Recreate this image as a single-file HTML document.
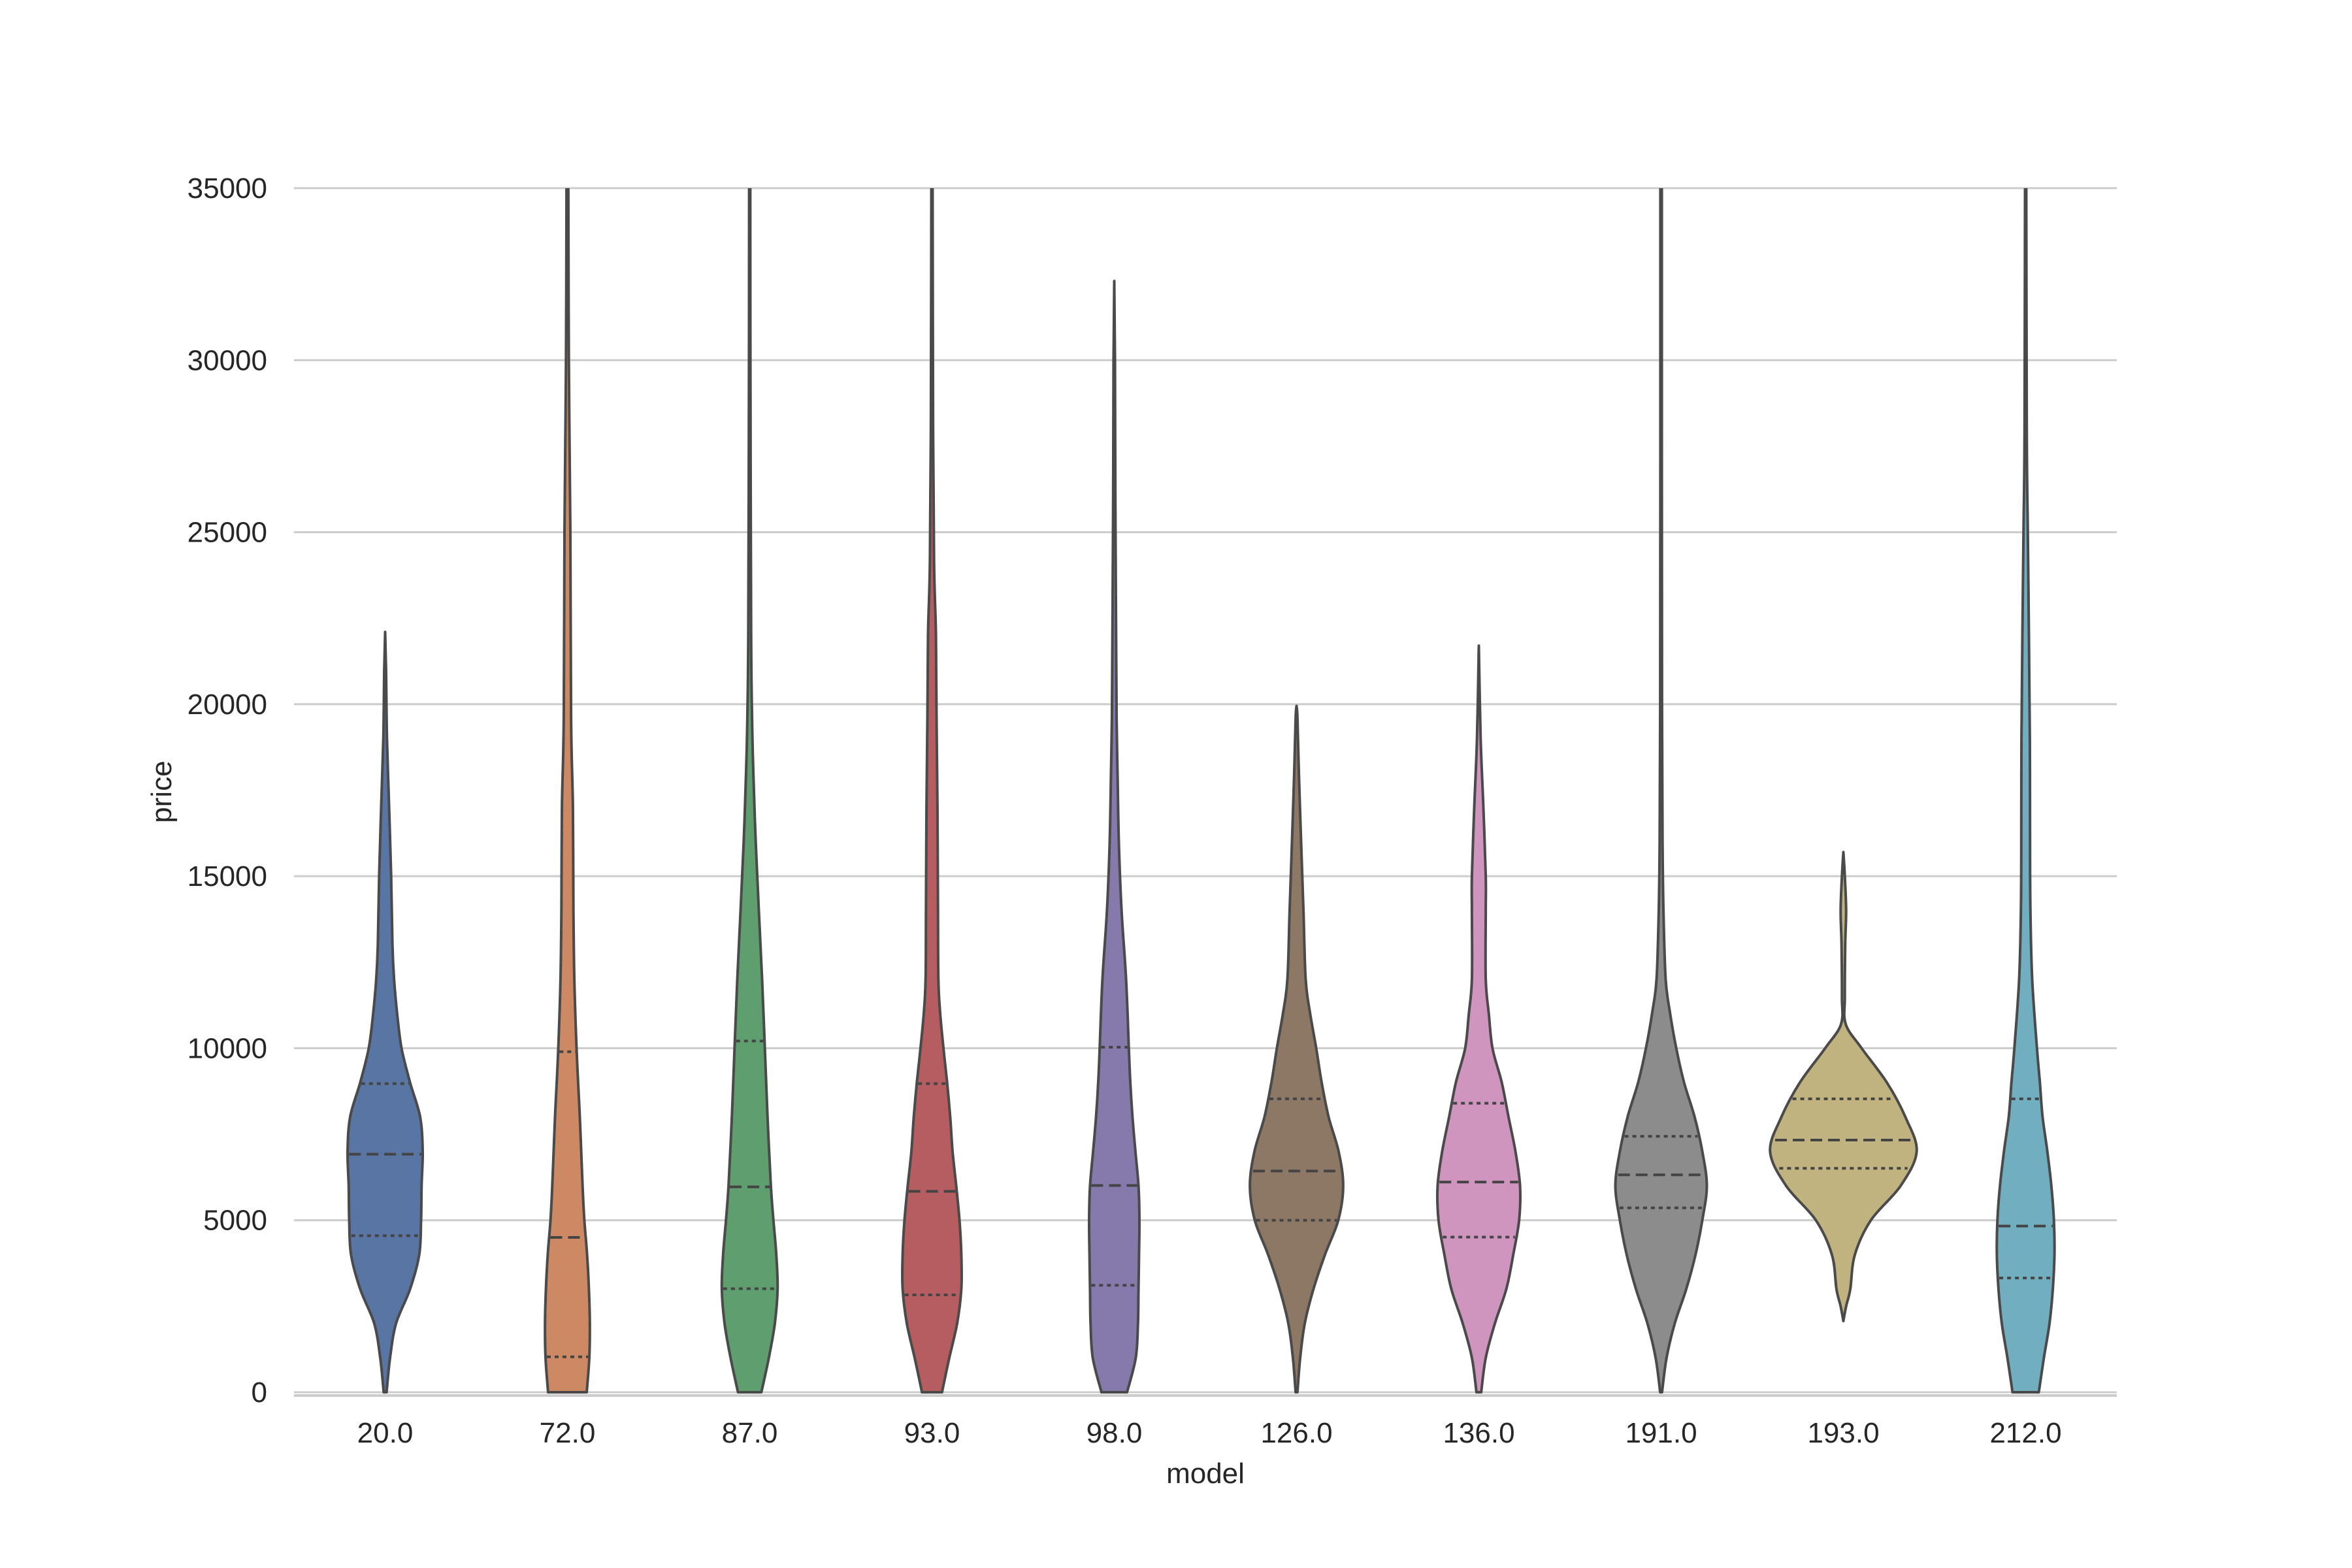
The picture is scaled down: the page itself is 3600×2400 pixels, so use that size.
<!DOCTYPE html>
<html><head><meta charset="utf-8"><style>
html,body{margin:0;padding:0;background:#fff;}
svg{display:block;font-family:"Liberation Sans",Arial,sans-serif;}
</style></head><body>
<svg id="chart" width="3600" height="2400" viewBox="0 0 3600 2400" xmlns="http://www.w3.org/2000/svg">
<defs><clipPath id="plotclip"><rect x="440" y="288" width="2810" height="1848"/></clipPath></defs>
<rect x="0" y="0" width="3600" height="2400" fill="#fff"/>
<g id="grid"></g>
<g id="violins" clip-path="url(#plotclip)"></g>
<g id="axes"></g>
<text x="1845" y="2270" font-size="44" text-anchor="middle" fill="#262626">model</text>
<text x="0" y="0" font-size="44" text-anchor="middle" fill="#262626" transform="translate(262,1212) rotate(-90)">price</text>
</svg>
<script>
const categories = ["20.0","72.0","87.0","93.0","98.0","126.0","136.0","191.0","193.0","212.0"];
const yTicks = [0,5000,10000,15000,20000,25000,30000,35000];
const yTickLabels = ["0","5000","10000","15000","20000","25000","30000","35000"];
// density profiles: price levels and relative half-widths (fraction of category spacing)
const p20 = [0,1000,2000,3000,4000,5000,6000,7000,8000,9000,10000,11000,12000,13000,15000,17000,19000,21000,22100];
const d20 = [.008,.027,.06,.137,.187,.197,.2,.206,.192,.137,.09,.066,.049,.04,.033,.022,.01,.005,0];
const p72 = [0,1000,2000,3000,4000,5000,6000,8000,10000,12000,14000,17000,19600,25000,30000,35000,36500];
const d72 = [.106,.12,.123,.118,.108,.093,.083,.068,.05,.038,.033,.03,.02,.016,.008,.005,.004];
const p87 = [0,1000,2000,3000,4000,5000,6000,8000,10000,12000,14000,16000,18000,19600,22000,30000,36500];
const d87 = [.064,.105,.138,.153,.146,.13,.116,.098,.083,.068,.05,.033,.02,.013,.008,.004,.003];
const p93 = [0,1000,2000,3000,4000,5000,6000,7000,8000,9000,10000,11000,12000,14000,17000,19600,22000,24000,28000,36500];
const d93 = [.055,.095,.138,.161,.161,.151,.133,.113,.1,.083,.063,.045,.035,.033,.03,.025,.022,.012,.006,.003];
const p98 = [0,1000,2000,3000,4000,5000,6000,7000,8000,9000,10000,12000,14000,16000,18000,19600,22000,26000,30000,32300];
const d98 = [.07,.118,.13,.133,.136,.138,.133,.116,.1,.088,.08,.065,.04,.025,.018,.013,.01,.006,.004,0];
const p126 = [0,1000,2000,3000,4000,5000,6000,7000,8000,9000,10000,11000,12000,14000,16000,18000,19600,19950];
const d126 = [.005,.02,.045,.093,.156,.229,.256,.231,.176,.138,.108,.075,.05,.038,.025,.013,.005,0];
const p136 = [0,1000,2000,3000,4000,5000,6000,7000,8000,9000,10000,11000,12000,14000,15000,17000,19000,21700];
const d136 = [.013,.038,.088,.151,.189,.221,.226,.201,.163,.126,.075,.055,.038,.038,.038,.025,.01,0];
const p191 = [0,1000,2000,3000,4000,5000,6000,7000,8000,9000,10000,11000,12000,14000,16000,20000,28000,36500];
const d191 = [.005,.03,.075,.138,.189,.226,.251,.226,.184,.126,.083,.05,.025,.013,.008,.005,.004,.004];
const p193 = [2070,2500,3000,4000,5000,6000,7000,8000,9000,10000,10700,11500,13000,14000,15000,15700];
const d193 = [0,.015,.038,.063,.151,.314,.402,.34,.239,.1,.013,.008,.01,.015,.008,0];
const p212 = [0,1000,2000,3000,4000,5000,6000,7000,8000,9000,10000,12000,14000,16000,19000,22000,25000,28000,36500];
const d212 = [.072,.1,.131,.149,.158,.155,.141,.119,.093,.078,.062,.036,.026,.024,.023,.018,.012,.006,.003];
const q1s = [4550,1030,3010,2830,3110,5000,4510,5360,6510,3320];
const medians = [6920,4500,5970,5840,6010,6430,6110,6320,7330,4830];
const q3s = [8970,9900,10210,8970,10030,8530,8400,7440,8530,8530];

const priceLevels = [p20,p72,p87,p93,p98,p126,p136,p191,p193,p212];
const densities = [d20,d72,d87,d93,d98,d126,d136,d191,d193,d212];
const fills = ["#5975a4","#cc8963","#5f9e6e","#b55d60","#857aab","#8d7866","#d095bf","#8c8c8c","#c1b37f","#71aec0"];

const X0 = 450, X1 = 3240, Y0 = 2131, Y35 = 288;
const step = (X1 - X0) / categories.length;
function xPos(i){ return X0 + step * (i + 0.5); }
function yPos(v){ return Y0 - v * (Y0 - Y35) / 35000; }
function wPx(d){ return d * step; }
const NS = "http://www.w3.org/2000/svg";
function mk(tag, attrs, parent){ const e = document.createElementNS(NS, tag); for (const k in attrs) e.setAttribute(k, attrs[k]); parent.appendChild(e); return e; }

const grid = document.getElementById('grid');
const axes = document.getElementById('axes');
yTicks.forEach((t, k) => {
  const gl = mk('line', {x1:X0, x2:X1, y1:yPos(t), y2:yPos(t), stroke:'#cccccc', 'stroke-width':3}, grid);
  
  
  const tl = mk('text', {x:409, y:yPos(t)+15, 'font-size':44, 'text-anchor':'end', fill:'#262626'}, axes);
  tl.textContent = yTickLabels[k];
  
  
});
const spine = mk('line', {x1:X0, x2:X1, y1:2136, y2:2136, stroke:'#cccccc', 'stroke-width':4}, axes);


categories.forEach((c, i) => {
  const tl = mk('text', {x:xPos(i), y:2208, 'font-size':44, 'text-anchor':'middle', fill:'#262626'}, axes);
  tl.textContent = c;
  
  
});

function widthAt(ps, ds, v){
  if (v <= ps[0]) return ds[0];
  for (let k = 1; k < ps.length; k++) if (v <= ps[k]) { const t = (v - ps[k-1])/(ps[k]-ps[k-1]); return ds[k-1] + t*(ds[k]-ds[k-1]); }
  return ds[ds.length-1];
}
function splinePts(pts){
  let s = '';
  for (let k = 0; k < pts.length - 1; k++) {
    const p0 = pts[Math.max(k-1,0)], p1 = pts[k], p2 = pts[k+1], p3 = pts[Math.min(k+2, pts.length-1)];
    const c1x = p1[0] + (p2[0]-p0[0])/6, c1y = p1[1] + (p2[1]-p0[1])/6;
    const c2x = p2[0] - (p3[0]-p1[0])/6, c2y = p2[1] - (p3[1]-p1[1])/6;
    s += ` C${c1x.toFixed(1)},${c1y.toFixed(1)} ${c2x.toFixed(1)},${c2y.toFixed(1)} ${p2[0].toFixed(1)},${p2[1].toFixed(1)}`;
  }
  return s;
}
const vg = document.getElementById('violins');
categories.forEach((c, i) => {
  const ps = priceLevels[i], ds = densities[i], cx = xPos(i);
  const right = ps.map((p, k) => [cx + wPx(ds[k]), yPos(p)]);
  const left = ps.map((p, k) => [cx - wPx(ds[k]), yPos(p)]).reverse();
  let d = `M${cx - wPx(ds[0])},${yPos(ps[0])} L${right[0][0]},${right[0][1]}` + splinePts(right) +
          ` L${left[0][0]},${left[0][1]}` + splinePts(left) + ' Z';
  const body = mk('path', {d:d, fill:fills[i], stroke:'#4a4a4a', 'stroke-width':4, 'stroke-linejoin':'round'}, vg);
  
  
  [[q1s[i],'6 6','quartile-1'],[medians[i],'18 9','median'],[q3s[i],'6 6','quartile-3']].forEach(q => {
    const hw = wPx(widthAt(ps, ds, q[0])) - 2;
    const ln = mk('line', {x1:cx-hw, x2:cx+hw, y1:yPos(q[0]), y2:yPos(q[0]), stroke:'#444', 'stroke-width':4, 'stroke-dasharray':q[1]}, vg);
    
    
  });
});
</script>
</body></html>
